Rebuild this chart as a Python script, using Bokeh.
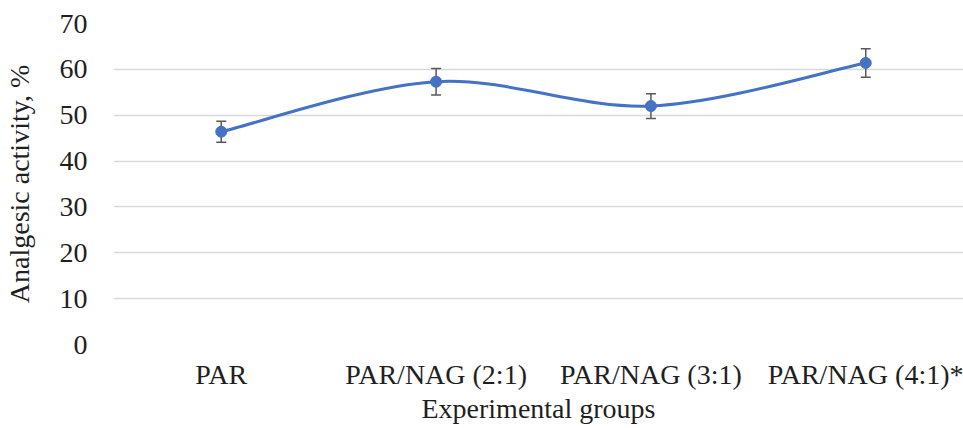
from bokeh.plotting import figure
from bokeh.models import Range1d, FixedTicker, Whisker, ColumnDataSource
from bokeh.embed import file_html
from bokeh.resources import INLINE

groups = ["PAR", "PAR/NAG (2:1)", "PAR/NAG (3:1)", "PAR/NAG (4:1)*"]
activity = [46.4, 57.3, 52.0, 61.4]
errors = [2.3, 2.9, 2.7, 3.1]
y_ticks = [0, 10, 20, 30, 40, 50, 60, 70]

xs = list(range(1, len(groups) + 1))

FONT = "Liberation Serif"
BLUE = "#4472C4"
TXT = "#1f1f1f"

p = figure(width=963, height=428, output_backend="svg", toolbar_location=None,
           x_range=Range1d(0.4984, 4.455), y_range=Range1d(0, 70))
p.min_border_left = 111
p.min_border_right = 0
p.min_border_top = 23
p.min_border_bottom = 84
p.outline_line_color = None
p.background_fill_color = "white"
p.border_fill_color = "white"

# smoothed line (Catmull-Rom style Bezier as in spreadsheet "smoothed line")
n = len(xs)
x0, y0, x1, y1, cx0, cy0, cx1, cy1 = [], [], [], [], [], [], [], []
for i in range(n - 1):
    pm = i - 1 if i > 0 else i
    pp = i + 2 if i + 2 < n else i + 1
    x0.append(xs[i]); y0.append(activity[i])
    x1.append(xs[i + 1]); y1.append(activity[i + 1])
    cx0.append(xs[i] + (xs[i + 1] - xs[pm]) / 6.0)
    cy0.append(activity[i] + (activity[i + 1] - activity[pm]) / 6.0)
    cx1.append(xs[i + 1] - (xs[pp] - xs[i]) / 6.0)
    cy1.append(activity[i + 1] - (activity[pp] - activity[i]) / 6.0)
p.bezier(x0=x0, y0=y0, x1=x1, y1=y1, cx0=cx0, cy0=cy0, cx1=cx1, cy1=cy1,
         line_color=BLUE, line_width=3)

src = ColumnDataSource(dict(x=xs, y=activity,
                            lo=[a - e for a, e in zip(activity, errors)],
                            hi=[a + e for a, e in zip(activity, errors)]))
w = Whisker(base="x", lower="lo", upper="hi", source=src,
            line_color="#595959", line_width=1.5)
for h in (w.upper_head, w.lower_head):
    h.size = 10
    h.line_color = "#595959"
    h.line_width = 1.5
p.add_layout(w)

p.scatter("x", "y", source=src, size=11, fill_color=BLUE, line_color=BLUE)

# axes
p.yaxis.ticker = FixedTicker(ticks=y_ticks)
p.xaxis.ticker = FixedTicker(ticks=xs)
p.xaxis.major_label_overrides = {x: g for x, g in zip(xs, groups)}
for ax in (p.xaxis[0], p.yaxis[0]):
    ax.axis_line_color = None
    ax.major_tick_line_color = None
    ax.minor_tick_line_color = None
    ax.major_tick_out = 0
    ax.major_tick_in = 0
    ax.minor_tick_out = 0
    ax.minor_tick_in = 0
    ax.major_label_text_font = FONT
    ax.major_label_text_font_size = "28px"
    ax.major_label_text_color = TXT
    ax.axis_label_text_font = FONT
    ax.axis_label_text_font_size = "28px"
    ax.axis_label_text_font_style = "normal"
    ax.axis_label_text_color = TXT

p.yaxis.axis_label = "Analgesic activity, %"
p.yaxis.major_label_standoff = 26
p.yaxis.axis_label_standoff = 22
p.xaxis.axis_label = "Experimental groups"
p.xaxis.major_label_standoff = 14
p.xaxis.axis_label_standoff = 0

p.xgrid.grid_line_color = None
p.ygrid.ticker = FixedTicker(ticks=y_ticks)
p.ygrid.grid_line_color = "#d9d9d9"
p.ygrid.grid_line_width = 1.3

open("out.html", "w").write(file_html(p, INLINE))
